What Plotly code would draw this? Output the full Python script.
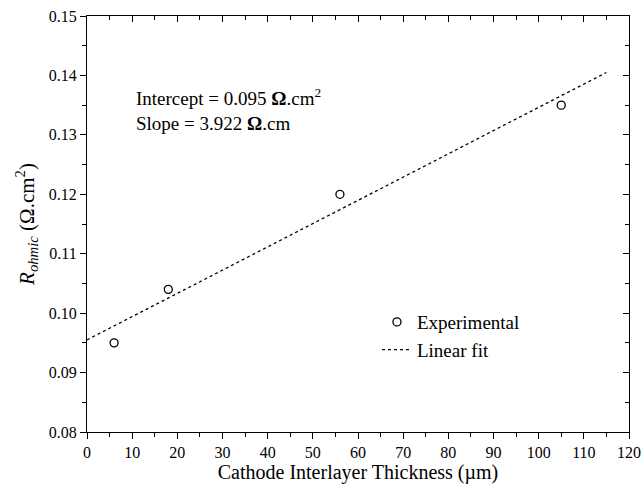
import plotly.graph_objects as go

thickness = [6, 18, 56, 105]
r_ohmic = [0.095, 0.104, 0.120, 0.135]
fit_x = [0, 115]
fit_y = [0.0955, 0.1405]

FONT = "Liberation Serif"

fig = go.Figure()
fig.add_trace(go.Scatter(
    x=thickness, y=r_ohmic, mode="markers", name="Experimental",
    marker=dict(symbol="circle-open", size=8, color="black", line=dict(width=1.3, color="black")),
))
fig.add_trace(go.Scatter(
    x=fit_x, y=fit_y, mode="lines", name="Linear fit",
    line=dict(color="black", width=1.3, dash="dot"),
))
# invisible trace to activate mirror axes
fig.add_trace(go.Scatter(x=fit_x, y=fit_y, xaxis="x2", yaxis="y2", mode="lines",
                         line=dict(width=0), showlegend=False, hoverinfo="skip", opacity=0))

common = dict(showgrid=False, zeroline=False, showline=True, linecolor="black", linewidth=1.3,
              automargin=False)

fig.update_layout(
    width=643, height=489,
    margin=dict(l=87, r=14, t=16, b=57),
    paper_bgcolor="white", plot_bgcolor="white",
    font=dict(family=FONT, color="black", size=16),
    showlegend=True,
    legend=dict(x=0.535, y=0.31, xanchor="left", yanchor="top",
                bgcolor="rgba(0,0,0,0)", font=dict(family=FONT, size=19),
                tracegroupgap=0, itemwidth=30),
    xaxis=dict(**common, range=[0, 120], dtick=10, tick0=0,
               ticks="outside", ticklen=6, tickwidth=1.3, tickcolor="black",
               minor=dict(dtick=5, ticks="outside", ticklen=4, tickwidth=1.3, tickcolor="black"),
               tickfont=dict(family=FONT, size=16),
               title=dict(text="Cathode Interlayer Thickness (µm)", font=dict(family=FONT, size=20), standoff=0)),
    yaxis=dict(**common, range=[0.08, 0.15], dtick=0.01, tick0=0.08, tickformat=".2f",
               ticks="outside", ticklen=6, tickwidth=1.3, tickcolor="black",
               minor=dict(dtick=0.005, ticks="outside", ticklen=4, tickwidth=1.3, tickcolor="black"),
               tickfont=dict(family=FONT, size=16),
               title=dict(text="<i>R</i><sub><i>ohmic</i></sub> (Ω.cm<sup>2</sup>)", font=dict(family=FONT, size=21), standoff=8)),
    xaxis2=dict(**common, overlaying="x", side="top", range=[0, 120], dtick=10, tick0=0,
                ticks="inside", ticklen=6, tickwidth=1.3, tickcolor="black", showticklabels=False,
                minor=dict(dtick=5, ticks="inside", ticklen=4, tickwidth=1.3, tickcolor="black")),
    yaxis2=dict(**common, overlaying="y", side="right", range=[0.08, 0.15], dtick=0.01, tick0=0.08,
                ticks="inside", ticklen=6, tickwidth=1.3, tickcolor="black", showticklabels=False,
                minor=dict(dtick=0.005, ticks="inside", ticklen=4, tickwidth=1.3, tickcolor="black")),
)

fig.add_annotation(xref="paper", yref="paper", x=(134-87)/542, y=(432-97)/416,
                   xanchor="left", yanchor="middle", showarrow=False, align="left",
                   text="Intercept = 0.095 <b>Ω</b>.cm<sup>2</sup>", font=dict(family=FONT, size=19))
fig.add_annotation(xref="paper", yref="paper", x=(134-87)/542, y=(432-124)/416,
                   xanchor="left", yanchor="middle", showarrow=False, align="left",
                   text="Slope = 3.922 <b>Ω</b>.cm", font=dict(family=FONT, size=19))

fig.write_html("out.html")
